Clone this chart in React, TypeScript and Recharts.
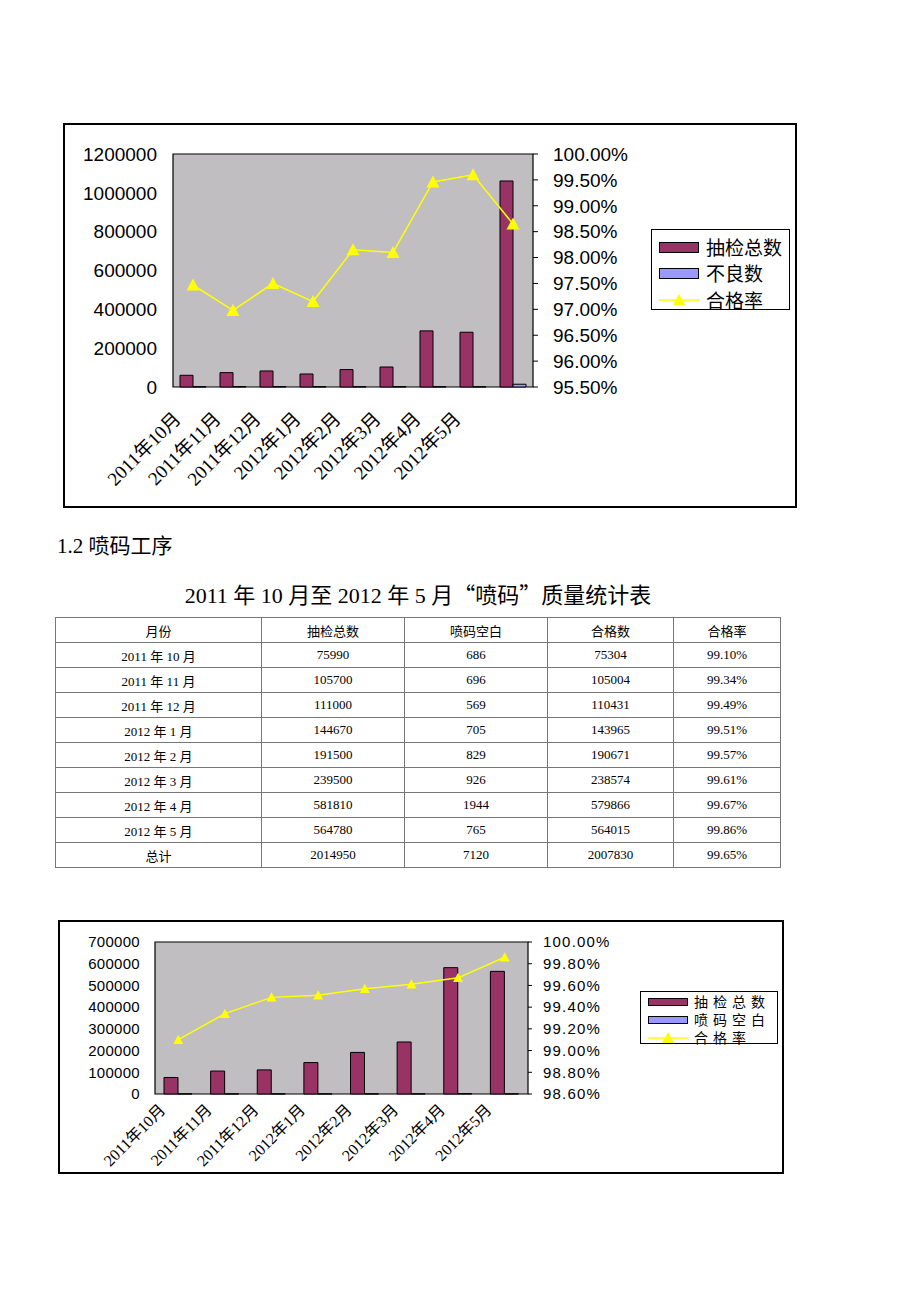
import { Bar, CartesianGrid, ComposedChart, Line, ReferenceArea, XAxis, YAxis } from "recharts";

const monthLabels = ["2011年10月", "2011年11月", "2011年12月", "2012年1月", "2012年2月", "2012年3月", "2012年4月", "2012年5月"];

// chart 1: 9th column is the unlabeled total
const firstLabels = [...monthLabels, ""];
const firstTotals = [60300, 74000, 82500, 67000, 89700, 103000, 289000, 282000, 1061000];
const firstDefects = [1500, 2240, 2060, 1900, 1660, 1960, 1560, 1130, 14300];
const firstRates = [97.47, 96.98, 97.5, 97.15, 98.15, 98.1, 99.46, 99.6, 98.65];
const firstLeftTicks = [0, 200000, 400000, 600000, 800000, 1000000, 1200000];
const firstRightTicks = [95.5, 96, 96.5, 97, 97.5, 98, 98.5, 99, 99.5, 100];

// chart 2 / table: 喷码
const tableMonths = ["2011 年 10 月", "2011 年 11 月", "2011 年 12 月", "2012 年 1 月", "2012 年 2 月", "2012 年 3 月", "2012 年 4 月", "2012 年 5 月"];
const sprayTotals = [75990, 105700, 111000, 144670, 191500, 239500, 581810, 564780];
const sprayBlanks = [686, 696, 569, 705, 829, 926, 1944, 765];
const sprayPassed = [75304, 105004, 110431, 143965, 190671, 238574, 579866, 564015];
const sprayRates = [99.1, 99.34, 99.49, 99.51, 99.57, 99.61, 99.67, 99.86];
const sprayTotalRow = ["总计", "2014950", "7120", "2007830", "99.65%"];
const tableHeader = ["月份", "抽检总数", "喷码空白", "合格数", "合格率"];
const secondLeftTicks = [0, 100000, 200000, 300000, 400000, 500000, 600000, 700000];
const secondRightTicks = [98.6, 98.8, 99, 99.2, 99.4, 99.6, 99.8, 100];

const firstData = firstLabels.map((month, i) => ({
  month,
  total: firstTotals[i],
  bad: firstDefects[i],
  rate: firstRates[i],
}));

const secondData = monthLabels.map((month, i) => ({
  month,
  total: sprayTotals[i],
  bad: sprayBlanks[i],
  rate: sprayRates[i],
}));

const BAR = "#993366";
const BAD = "#9999ff";
const LINE = "#ffff00";
const PLOT_BG = "#c0bec0";
const SANS = "'Liberation Sans', Arial, 'Noto Sans CJK SC', sans-serif";
const SERIF = "'Liberation Serif', 'Times New Roman', 'Noto Sans CJK SC', serif";
const CJK = "'Noto Sans CJK SC', sans-serif";

function MonthTick(props: any) {
  const { x, y, payload, dx, dy, size } = props;
  const tx = x + dx;
  const ty = y + dy;
  return (
    <text x={tx} y={ty} transform={`rotate(-45 ${tx} ${ty})`} textAnchor="end" fontSize={size} fontFamily={SERIF} fill="#000">
      {payload.value}
    </text>
  );
}

function triangleDot(r: number) {
  return (props: any) => {
    const { cx, cy, index } = props;
    if (cx == null || cy == null) return <g key={index} />;
    return (
      <polygon
        key={index}
        points={`${cx},${cy - r} ${cx + r},${cy + r * 0.85} ${cx - r},${cy + r * 0.85}`}
        fill={LINE}
        stroke="none"
      />
    );
  };
}

type LegendItem = { label: string; color?: string; line?: boolean };

function LegendBox({
  left,
  top,
  width,
  height,
  items,
  first,
  step,
  fontSize,
  swatchH,
  textLeft,
  spacing,
}: {
  left: number;
  top: number;
  width: number;
  height: number;
  items: LegendItem[];
  first: number;
  step: number;
  fontSize: number;
  swatchH: number;
  textLeft: number;
  spacing: number;
}) {
  return (
    <div
      style={{
        position: "absolute",
        left,
        top,
        width,
        height,
        boxSizing: "border-box",
        border: "1.5px solid #000",
        background: "#fff",
      }}
    >
      {items.map((item, i) => {
        const cy = first + i * step;
        return (
          <div key={item.label}>
            {item.line ? (
              <svg style={{ position: "absolute", left: 7, top: cy - 7 }} width={40} height={14}>
                <line x1={0} y1={7} x2={40} y2={7} stroke={LINE} strokeWidth={1.5} />
                <polygon points="20,1 26,12 14,12" fill={LINE} />
              </svg>
            ) : (
              <div
                style={{
                  position: "absolute",
                  left: 7,
                  top: cy - swatchH / 2,
                  width: 40,
                  height: swatchH,
                  boxSizing: "border-box",
                  border: "1px solid #000",
                  background: item.color,
                }}
              />
            )}
            <div
              style={{
                position: "absolute",
                left: textLeft,
                top: cy - step / 2,
                height: step,
                fontSize,
                lineHeight: `${step}px`,
                fontFamily: CJK,
                letterSpacing: spacing,
                whiteSpace: "nowrap",
                color: "#000",
              }}
            >
              {item.label}
            </div>
          </div>
        );
      })}
    </div>
  );
}

function SamplingChart() {
  return (
    <div
      style={{
        position: "absolute",
        left: 63,
        top: 123,
        width: 734,
        height: 385,
        boxSizing: "border-box",
        border: "2px solid #000",
      }}
    >
      <ComposedChart width={730} height={381} data={firstData} margin={{ top: 29, right: 162, bottom: 0, left: 0 }} barGap={0}>
        <CartesianGrid fill={PLOT_BG} horizontal={false} vertical={false} yAxisId="left" />
        <XAxis
          dataKey="month"
          height={119}
          interval={0}
          axisLine={false}
          tickLine={false}
          tickSize={0}
          tickMargin={0}
          tick={(p: any) => <MonthTick {...p} dx={-11} dy={33} size={19} />}
        />
        <YAxis
          yAxisId="left"
          width={108}
          domain={[0, 1200000]}
          ticks={firstLeftTicks}
          interval={0}
          axisLine={false}
          tickLine={false}
          tickSize={0}
          tickMargin={16}
          tick={{ fill: "#000", fontSize: 19, fontFamily: SANS }}
        />
        <YAxis
          yAxisId="right"
          orientation="right"
          width={100}
          domain={[95.5, 100]}
          ticks={firstRightTicks}
          interval={0}
          axisLine={false}
          tickLine={{ stroke: "#000" }}
          tickSize={5}
          tickMargin={15}
          tickFormatter={(v: number) => `${v.toFixed(2)}%`}
          tick={{ fill: "#000", fontSize: 19, fontFamily: SANS, textAnchor: "start" }}
        />
        <Bar yAxisId="left" dataKey="total" name="抽检总数" fill={BAR} stroke="#000" strokeWidth={1} barSize={13} isAnimationActive={false} />
        <Bar yAxisId="left" dataKey="bad" name="不良数" fill={BAD} stroke="#000" strokeWidth={1} barSize={13} isAnimationActive={false} />
        <Line
          yAxisId="right"
          dataKey="rate"
          name="合格率"
          stroke={LINE}
          strokeWidth={1.5}
          dot={triangleDot(6.5)}
          activeDot={false}
          isAnimationActive={false}
        />
        <ReferenceArea yAxisId="left" y1={0} y2={1200000} fill="none" stroke="#000" strokeWidth={1.2} ifOverflow="visible" />
      </ComposedChart>
      <LegendBox
        left={651 - 65}
        top={229 - 125}
        width={139}
        height={81}
        items={[
          { label: "抽检总数", color: BAR },
          { label: "不良数", color: BAD },
          { label: "合格率", line: true },
        ]}
        first={17}
        step={26.7}
        fontSize={19}
        swatchH={11}
        textLeft={54}
        spacing={0}
      />
    </div>
  );
}

function SprayChart() {
  return (
    <div
      style={{
        position: "absolute",
        left: 58,
        top: 920,
        width: 726,
        height: 254,
        boxSizing: "border-box",
        border: "2px solid #000",
      }}
    >
      <ComposedChart width={722} height={250} data={secondData} margin={{ top: 20, right: 174, bottom: 0, left: 0 }} barGap={0}>
        <CartesianGrid fill={PLOT_BG} horizontal={false} vertical={false} yAxisId="left" />
        <XAxis
          dataKey="month"
          height={78}
          interval={0}
          axisLine={false}
          tickLine={false}
          tickSize={0}
          tickMargin={0}
          tick={(p: any) => <MonthTick {...p} dx={-12} dy={17} size={16} />}
        />
        <YAxis
          yAxisId="left"
          width={95}
          domain={[0, 700000]}
          ticks={secondLeftTicks}
          interval={0}
          axisLine={false}
          tickLine={false}
          tickSize={0}
          tickMargin={15}
          tick={{ fill: "#000", fontSize: 15, fontFamily: SANS, letterSpacing: 0.3 }}
        />
        <YAxis
          yAxisId="right"
          orientation="right"
          width={80}
          domain={[98.6, 100]}
          ticks={secondRightTicks}
          interval={0}
          axisLine={false}
          tickLine={{ stroke: "#000" }}
          tickSize={4}
          tickMargin={11}
          tickFormatter={(v: number) => `${v.toFixed(2)}%`}
          tick={{ fill: "#000", fontSize: 15, fontFamily: SANS, letterSpacing: 1.2, textAnchor: "start" }}
        />
        <Bar yAxisId="left" dataKey="total" name="抽检总数" fill={BAR} stroke="#000" strokeWidth={1} barSize={14} isAnimationActive={false} />
        <Bar yAxisId="left" dataKey="bad" name="喷码空白" fill={BAD} stroke="#000" strokeWidth={1} barSize={14} isAnimationActive={false} />
        <Line
          yAxisId="right"
          dataKey="rate"
          name="合格率"
          stroke={LINE}
          strokeWidth={1.5}
          dot={triangleDot(5)}
          activeDot={false}
          isAnimationActive={false}
        />
        <ReferenceArea yAxisId="left" y1={0} y2={700000} fill="none" stroke="#000" strokeWidth={1.2} ifOverflow="visible" />
      </ComposedChart>
      <LegendBox
        left={640 - 60}
        top={991 - 922}
        width={138}
        height={53}
        items={[
          { label: "抽检总数", color: BAR },
          { label: "喷码空白", color: BAD },
          { label: "合格率", line: true },
        ]}
        first={10}
        step={17.8}
        fontSize={14}
        swatchH={8}
        textLeft={53}
        spacing={5}
      />
    </div>
  );
}

function SprayTable() {
  const rows = tableMonths.map((m, i) => [
    m,
    String(sprayTotals[i]),
    String(sprayBlanks[i]),
    String(sprayPassed[i]),
    `${sprayRates[i].toFixed(2)}%`,
  ]);
  const colWidths = [206, 143, 143, 126, 107];
  const cell: React.CSSProperties = {
    border: "1px solid #777",
    padding: 0,
    height: 24,
    textAlign: "center",
    verticalAlign: "middle",
    fontSize: 13,
    fontFamily: SERIF,
    color: "#000",
  };
  return (
    <table
      style={{
        position: "absolute",
        left: 55,
        top: 617,
        width: 725,
        height: 249,
        borderCollapse: "collapse",
        tableLayout: "fixed",
      }}
    >
      <colgroup>
        {colWidths.map((w, i) => (
          <col key={i} style={{ width: w }} />
        ))}
      </colgroup>
      <tbody>
        {[tableHeader, ...rows, sprayTotalRow].map((row, r) => (
          <tr key={r}>
            {row.map((v, c) => (
              <td key={c} style={cell}>
                {v}
              </td>
            ))}
          </tr>
        ))}
      </tbody>
    </table>
  );
}

export default function App() {
  return (
    <div style={{ position: "absolute", left: 0, top: 0, width: 920, height: 1302, background: "#fff" }}>
      <SamplingChart />
      <div
        style={{
          position: "absolute",
          left: 57,
          top: 533,
          fontSize: 21,
          lineHeight: "26px",
          fontFamily: SERIF,
          color: "#000",
          whiteSpace: "nowrap",
        }}
      >
        1.2 喷码工序
      </div>
      <div
        style={{
          position: "absolute",
          left: 0,
          width: 836,
          top: 579,
          textAlign: "center",
          fontSize: 22,
          lineHeight: "28px",
          fontFamily: SERIF,
          color: "#000",
          whiteSpace: "nowrap",
        }}
      >
        2011 年 10 月至 2012 年 5 月<span style={{ fontFamily: CJK }}>“喷码”</span>质量统计表
      </div>
      <SprayTable />
      <SprayChart />
    </div>
  );
}
